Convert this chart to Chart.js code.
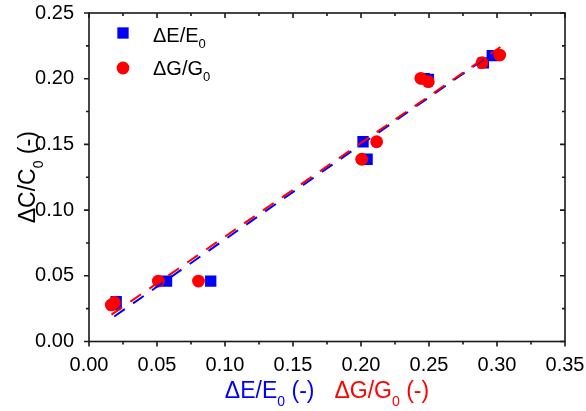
<!DOCTYPE html>
<html>
<head>
<meta charset="utf-8">
<script src="https://cdn.jsdelivr.net/npm/chart.js@4.4.1/dist/chart.umd.min.js"></script>
<style>
  html, body { margin: 0; padding: 0; background: #fff; }
  #chart { display: block; }
</style>
</head>
<body>
<canvas id="chart" width="586" height="411"></canvas>
<script>
const xTickValues = [0, 0.05, 0.10, 0.15, 0.20, 0.25, 0.30, 0.35];
const yTickValues = [0, 0.05, 0.10, 0.15, 0.20, 0.25];

// ΔE/E0 measurements (blue squares)
const dE_x = [0.0190, 0.0200, 0.0570, 0.0895, 0.2015, 0.2045, 0.2465, 0.2495, 0.2900, 0.2965];
const dE_y = [0.0280, 0.0304, 0.0460, 0.0460, 0.1520, 0.1387, 0.2000, 0.1995, 0.2120, 0.2175];

// ΔG/G0 measurements (red circles)
const dG_x = [0.0164, 0.0187, 0.0510, 0.0805, 0.2005, 0.2115, 0.2440, 0.2495, 0.2890, 0.3020];
const dG_y = [0.0278, 0.0297, 0.0460, 0.0460, 0.1387, 0.1520, 0.2003, 0.1977, 0.2122, 0.2180];

// linear fits, end points
const fitE_x = [0.0185, 0.2975];
const fitE_y = [0.0190, 0.2200];
const fitG_x = [0.0165, 0.3025];
const fitG_y = [0.0204, 0.2241];

const BLUE = "#0000ff";
const RED = "#ff0000";
const FONT = "'Liberation Sans', Arial, sans-serif";

const pts = (xs, ys) => xs.map((x, i) => ({ x: x, y: ys[i] }));

// text with a lowered "0" subscript: segs = [[text, isSub], ...]
function segWidth(ctx, segs, size, subSize){
    let w = 0;
    segs.forEach(s => {
        ctx.font = (s[1] ? subSize : size) + "px " + FONT;
        w += ctx.measureText(s[0]).width;
    });
    return w;
}

function drawSegs(ctx, segs, x, y, size, subSize, subDrop, color){
    ctx.fillStyle = color;
    ctx.textBaseline = "alphabetic";
    ctx.textAlign = "left";
    segs.forEach(s => {
        ctx.font = (s[1] ? subSize : size) + "px " + FONT;
        ctx.fillText(s[0], x, s[1] ? y + subDrop : y);
        x += ctx.measureText(s[0]).width;
    });
    return x;
}

const segE = [["\u0394E/E", 0], ["0", 1], [" (-)", 0]];
const segG = [["\u0394G/G", 0], ["0", 1], [" (-)", 0]];
const segC = [["\u0394C/C", 0], ["0", 1], [" (-)", 0]];

// frame with major/minor ticks on all four sides
const frameTicks = {
    id: "frameTicks",
    afterDraw(chart){
        const ctx = chart.ctx;
        const a = chart.chartArea;
        const xs = chart.scales.x, ys = chart.scales.y;
        ctx.save();
        ctx.strokeStyle = "#1a1a1a";
        ctx.lineWidth = 1.6;
        ctx.strokeRect(a.left, a.top, a.right - a.left, a.bottom - a.top);
        ctx.beginPath();
        for(let i = 0; i <= 14; i++){
            const px = xs.getPixelForValue(i * 0.025);
            const len = i % 2 === 0 ? 5 : 3;
            ctx.moveTo(px, a.bottom); ctx.lineTo(px, a.bottom + len);
            ctx.moveTo(px, a.top); ctx.lineTo(px, a.top + len);
        }
        for(let i = 0; i <= 10; i++){
            const py = ys.getPixelForValue(i * 0.025);
            const len = i % 2 === 0 ? 5 : 3;
            ctx.moveTo(a.left - len, py); ctx.lineTo(a.left, py);
            ctx.moveTo(a.right - len, py); ctx.lineTo(a.right, py);
        }
        ctx.stroke();
        ctx.restore();
    }
};

// axis titles and legend
const labels = {
    id: "labels",
    afterDraw(chart){
        const ctx = chart.ctx;
        const a = chart.chartArea;
        ctx.save();

        // x title: two coloured parts side by side
        const gap = 20;
        const wE = segWidth(ctx, segE, 23, 14);
        const wG = segWidth(ctx, segG, 23, 14);
        let x0 = (a.left + a.right) / 2 - (wE + gap + wG) / 2;
        drawSegs(ctx, segE, x0, 398, 23, 14, 8, BLUE);
        drawSegs(ctx, segG, x0 + wE + gap, 398, 23, 14, 8, RED);

        // y title, rotated
        const wC = segWidth(ctx, segC, 23, 14);
        ctx.save();
        ctx.translate(35, (a.top + a.bottom) / 2);
        ctx.rotate(-Math.PI / 2);
        drawSegs(ctx, segC, -wC / 2, 0, 23, 14, 8, "#000");
        ctx.restore();

        // legend
        const sq = chart.data.datasets[3];
        const ci = chart.data.datasets[2];
        ctx.fillStyle = sq.backgroundColor;
        const half = sq.pointRadius * Math.SQRT1_2;
        ctx.fillRect(123 - half, 33 - half, 2 * half, 2 * half);
        ctx.fillStyle = ci.backgroundColor;
        ctx.beginPath();
        ctx.arc(123, 68, ci.pointRadius, 0, Math.PI * 2);
        ctx.fill();
        drawSegs(ctx, [["\u0394E/E", 0], ["0", 1]], 153, 42, 20, 13, 6, "#000");
        drawSegs(ctx, [["\u0394G/G", 0], ["0", 1]], 153, 75, 20, 13, 6, "#000");

        ctx.restore();
    }
};

new Chart(document.getElementById("chart"), {
    type: "scatter",
    data: {
        datasets: [
            {
                label: "fit G",
                data: pts(fitG_x, fitG_y),
                showLine: true,
                borderColor: RED,
                borderWidth: 2,
                borderDash: [13, 10],
                pointRadius: 0,
                order: 0
            },
            {
                label: "fit E",
                data: pts(fitE_x, fitE_y),
                showLine: true,
                borderColor: BLUE,
                borderWidth: 2,
                borderDash: [13, 10],
                pointRadius: 0,
                order: 1
            },
            {
                label: "\u0394G/G0",
                data: pts(dG_x, dG_y),
                pointStyle: "circle",
                pointRadius: 6.4,
                backgroundColor: RED,
                borderWidth: 0,
                order: 2
            },
            {
                label: "\u0394E/E0",
                data: pts(dE_x, dE_y),
                pointStyle: "rect",
                pointRadius: 8,
                backgroundColor: BLUE,
                borderWidth: 0,
                order: 3
            }
        ]
    },
    options: {
        responsive: false,
        devicePixelRatio: 1,
        animation: false,
        layout: { padding: { left: 0, right: 21, top: 13, bottom: 0 } },
        plugins: {
            legend: { display: false },
            tooltip: { enabled: false }
        },
        scales: {
            x: {
                type: "linear",
                position: "bottom",
                min: 0,
                max: 0.35,
                // tick marks come from frameTicks; tickLength only spaces the labels
                grid: { display: false, drawTicks: true, tickLength: 12 },
                border: { display: false },
                afterBuildTicks: axis => { axis.ticks = xTickValues.map(v => ({ value: v })); },
                afterFit: axis => { axis.height = 69.5; },
                ticks: {
                    callback: v => v.toFixed(2),
                    font: { family: FONT, size: 20 },
                    color: "#000",
                    padding: 0,
                    maxRotation: 0,
                    autoSkip: false
                }
            },
            y: {
                type: "linear",
                min: 0,
                max: 0.25,
                grid: { display: false, drawTicks: true, tickLength: 15 },
                border: { display: false },
                afterBuildTicks: axis => { axis.ticks = yTickValues.map(v => ({ value: v })); },
                afterFit: axis => { axis.width = 89; },
                ticks: {
                    callback: v => v.toFixed(2),
                    font: { family: FONT, size: 20 },
                    color: "#000",
                    padding: 0
                }
            }
        }
    },
    plugins: [frameTicks, labels]
});
</script>
</body>
</html>
